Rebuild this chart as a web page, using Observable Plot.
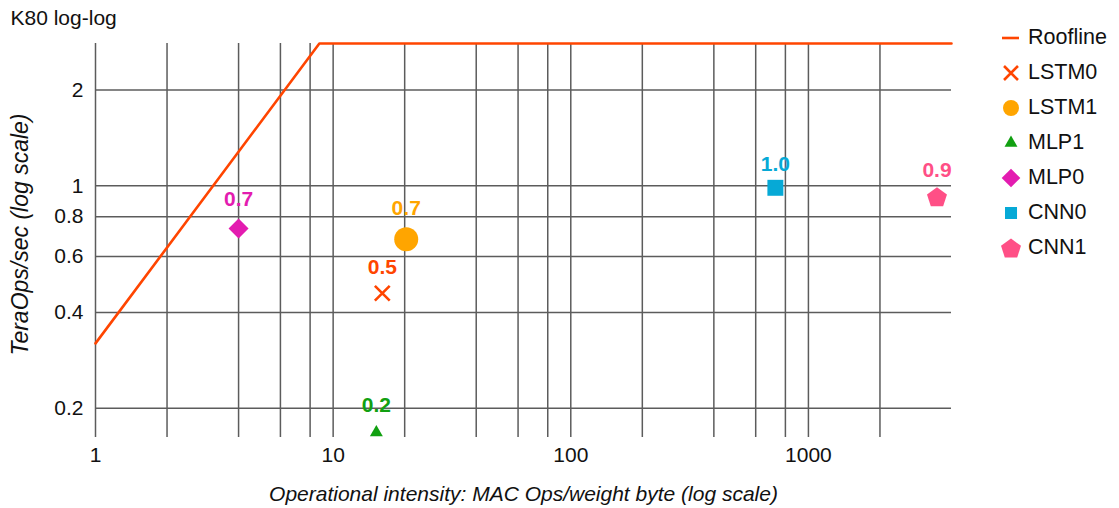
<!DOCTYPE html>
<html>
<head>
<meta charset="utf-8">
<script src="https://cdn.jsdelivr.net/npm/d3@7"></script>
<script src="https://cdn.jsdelivr.net/npm/@observablehq/plot@0.6"></script>
<style>
  html, body { margin: 0; padding: 0; background: #fff; }
  #wrap { position: relative; width: 1119px; height: 508px; font-family: "Liberation Sans", Arial, sans-serif; }
  #wrap > svg { position: absolute; left: 0; top: 0; }
  #legend { position: absolute; left: 998px; top: 20px; font-size: 21.5px; color: #111; }
  .row { display: flex; align-items: center; height: 35px; }
  .row svg { width: 26px; height: 26px; margin-right: 4px; overflow: visible; }
</style>
</head>
<body>
<div id="wrap"><div id="legend"></div></div>
<script>
// ---- data ----
const models = ["LSTM0", "LSTM1", "MLP1", "MLP0", "CNN0", "CNN1"];
const intensity = [16.1, 20.3, 15.2, 4, 726, 3475];
const teraOps = [0.46, 0.68, 0.168, 0.735, 0.986, 0.924];
const utilLabels = ["0.5", "0.7", "0.2", "0.7", "1.0", "0.9"];
const roofX = [1, 8.75, 4000];
const roofY = [0.32, 2.8, 2.8];
const xTickLabels = [1, 10, 100, 1000];
const xGrid = [1, 2, 4, 6, 8, 10, 20, 40, 60, 80, 100, 200, 400, 600, 800, 1000, 2000];
const yTicks = [0.2, 0.4, 0.6, 0.8, 1, 2];
const titleText = "K80 log-log";
const xLabel = "Operational intensity: MAC Ops/weight byte (log scale)";
const yLabel = "TeraOps/sec (log scale)";

// ---- styles ----
const pentagon = {
  draw(context, size) {
    const R = Math.sqrt(size / Math.PI);
    for (let i = 0; i < 5; i++) {
      const a = -Math.PI / 2 + i * 2 * Math.PI / 5;
      const px = R * Math.cos(a), py = R * Math.sin(a) + R * 0.1;
      if (i === 0) context.moveTo(px, py); else context.lineTo(px, py);
    }
    context.closePath();
  }
};
const roofColor = "#ff4500";
const styles = {
  LSTM0: {color: "#ff4500", symbol: "times", r: 6.8, stroke: true, dy: -26, lr: 6.4},
  LSTM1: {color: "#ffa500", symbol: "circle", r: 12, dy: -31, lr: 8},
  MLP1:  {color: "#11a011", symbol: "triangle", r: 4.8, dy: -27, lr: 4.8},
  MLP0:  {color: "#e31cb0", symbol: "diamond2", r: 9, dy: -29, lr: 8.4},
  CNN0:  {color: "#06a9d6", symbol: "square", r: 9, dy: -24, lr: 6.8},
  CNN1:  {color: "#ff4f86", symbol: pentagon, r: 10.5, dy: -27, lr: 10.5}
};

const rows = models.map((m, i) => ({model: m, x: intensity[i], y: teraOps[i], label: utilLabels[i]}));
const roof = roofX.map((x, i) => ({x, y: roofY[i]}));

const font = "Liberation Sans, Arial, sans-serif";
const fs = 21;
const marks = [
  Plot.gridX(xGrid, {stroke: "#5c5c5c", strokeOpacity: 1, strokeWidth: 1.5}),
  Plot.gridY(yTicks, {stroke: "#5c5c5c", strokeOpacity: 1, strokeWidth: 1.5}),
  Plot.axisX(xTickLabels, {tickSize: 0, tickPadding: 10, tickFormat: d => String(d), label: null, fontSize: fs, fill: "#111"}),
  Plot.axisY(yTicks, {tickSize: 0, tickPadding: 12, tickFormat: d => String(d), label: null, fontSize: fs, fill: "#111"}),
  Plot.line(roof, {x: "x", y: "y", stroke: roofColor, strokeWidth: 2.6}),
  Plot.text([xLabel], {frameAnchor: "bottom", lineAnchor: "middle", dy: 57, fontStyle: "italic", fontSize: fs, fill: "#111"}),
  Plot.text([yLabel], {frameAnchor: "left", textAnchor: "middle", lineAnchor: "middle", rotate: -90, dx: -75, dy: -6, fontStyle: "italic", fontSize: 23, fill: "#111"}),
  Plot.text([titleText], {frameAnchor: "top-left", lineAnchor: "middle", dx: -85, dy: -25, textAnchor: "start", fontSize: fs, fill: "#111"})
];
for (const m of models) {
  const s = styles[m];
  const sub = rows.filter(d => d.model === m);
  if (s.stroke) {
    marks.push(Plot.dot(sub, {x: "x", y: "y", symbol: s.symbol, r: s.r, stroke: s.color, strokeWidth: 2.6, fill: "none"}));
  } else {
    marks.push(Plot.dot(sub, {x: "x", y: "y", symbol: s.symbol, r: s.r, fill: s.color, stroke: "none"}));
  }
  marks.push(Plot.text(sub, {x: "x", y: "y", text: "label", dy: s.dy, fill: s.color, fontWeight: "bold", fontSize: fs}));
}

const chart = Plot.plot({
  width: 1119,
  height: 508,
  marginLeft: 95,
  marginRight: 168,
  marginTop: 43,
  marginBottom: 71,
  style: {fontFamily: font, fontSize: fs + "px", background: "#fff", overflow: "visible"},
  x: {type: "log", domain: [1, 4000]},
  y: {type: "log", domain: [0.162, 2.8]},
  marks
});
document.getElementById("wrap").insertBefore(chart, document.getElementById("legend"));

// ---- legend ----
const legend = d3.select("#legend");
const r1 = legend.append("div").attr("class", "row");
const s1 = r1.append("svg").attr("viewBox", "-13 -13 26 26");
s1.append("line").attr("x1", -9).attr("x2", 8).attr("stroke", roofColor).attr("stroke-width", 2.6);
r1.append("span").text("Roofline");
const symMap = {circle: d3.symbolCircle, times: d3.symbolTimes, triangle: d3.symbolTriangle, diamond2: d3.symbolDiamond2, square: d3.symbolSquare};
for (const m of models) {
  const s = styles[m];
  const row = legend.append("div").attr("class", "row");
  const svg = row.append("svg").attr("viewBox", "-13 -13 26 26");
  const type = typeof s.symbol === "string" ? symMap[s.symbol] : s.symbol;
  const path = d3.symbol(type, Math.PI * s.lr * s.lr)();
  const p = svg.append("path").attr("d", path);
  if (s.stroke) p.attr("fill", "none").attr("stroke", s.color).attr("stroke-width", 2.6);
  else p.attr("fill", s.color);
  row.append("span").text(m);
}
</script>
</body>
</html>
